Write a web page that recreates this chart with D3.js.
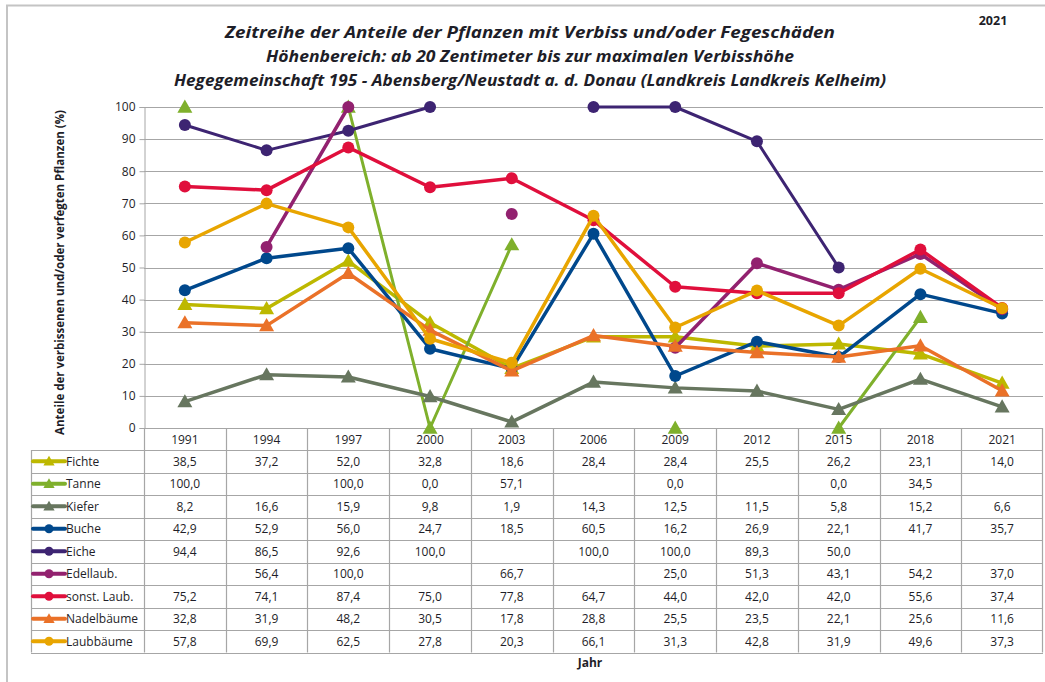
<!DOCTYPE html>
<html>
<head>
<meta charset="utf-8">
<script src="https://cdn.jsdelivr.net/npm/d3@7"></script>
<style>
  body { margin: 0; background: #fff; }
  svg text { font-family: "Open Sans", "Noto Sans", sans-serif; fill: #1e1e28; }
  .title { font-weight: bold; font-style: italic; font-size: 15.5px; }
  .cell { font-size: 12px; text-anchor: middle; }
  .tick text { font-size: 12px; }
</style>
</head>
<body>
<svg id="chart" width="1045" height="682"></svg>
<script>
const years = ["1991", "1994", "1997", "2000", "2003", "2006", "2009", "2012", "2015", "2018", "2021"];
const yTicks = [0, 10, 20, 30, 40, 50, 60, 70, 80, 90, 100];

const fichte = [38.5, 37.2, 52.0, 32.8, 18.6, 28.4, 28.4, 25.5, 26.2, 23.1, 14.0];
const tanne = [100.0, null, 100.0, 0.0, 57.1, null, 0.0, null, 0.0, 34.5, null];
const kiefer = [8.2, 16.6, 15.9, 9.8, 1.9, 14.3, 12.5, 11.5, 5.8, 15.2, 6.6];
const buche = [42.9, 52.9, 56.0, 24.7, 18.5, 60.5, 16.2, 26.9, 22.1, 41.7, 35.7];
const eiche = [94.4, 86.5, 92.6, 100.0, null, 100.0, 100.0, 89.3, 50.0, null, null];
const edellaub = [null, 56.4, 100.0, null, 66.7, null, 25.0, 51.3, 43.1, 54.2, 37.0];
const sonstLaub = [75.2, 74.1, 87.4, 75.0, 77.8, 64.7, 44.0, 42.0, 42.0, 55.6, 37.4];
const nadelbaeume = [32.8, 31.9, 48.2, 30.5, 17.8, 28.8, 25.5, 23.5, 22.1, 25.6, 11.6];
const laubbaeume = [57.8, 69.9, 62.5, 27.8, 20.3, 66.1, 31.3, 42.8, 31.9, 49.6, 37.3];

const series = [
  { name: "Fichte", values: fichte, color: "#bdb800", shape: "tri", width: 3.5 },
  { name: "Tanne", values: tanne, color: "#7fb02c", shape: "tri", width: 3 },
  { name: "Kiefer", values: kiefer, color: "#67765f", shape: "tri", width: 3.5 },
  { name: "Buche", values: buche, color: "#00488c", shape: "circle", width: 3.5 },
  { name: "Eiche", values: eiche, color: "#3d2472", shape: "circle", width: 3 },
  { name: "Edellaub.", values: edellaub, color: "#92216f", shape: "circle", width: 3.5 },
  { name: "sonst. Laub.", values: sonstLaub, color: "#e00f3c", shape: "circle", width: 3.5 },
  { name: "Nadelbäume", values: nadelbaeume, color: "#ea7128", shape: "tri", width: 3.5 },
  { name: "Laubbäume", values: laubbaeume, color: "#e8a500", shape: "circle", width: 3.5 }
];

const svg = d3.select("#chart");
const grid = "#a6a6a6";

// outer frame (only left and top edges are visible)
svg.append("rect").attr("x", 7).attr("y", 5.5).attr("width", 1060).attr("height", 700)
  .attr("fill", "none").attr("stroke", "#c4c4c4").attr("stroke-width", 2);

const plotLeft = 144, plotRight = 1043, plotTop = 107, plotBottom = 428;
const x = d3.scaleBand().domain(years).range([plotLeft, plotRight]);
const y = d3.scaleLinear().domain([0, 100]).range([plotBottom, plotTop]);

// titles
const titles = [
  "Zeitreihe der Anteile der Pflanzen mit Verbiss und/oder Fegeschäden",
  "Höhenbereich: ab 20 Zentimeter bis zur maximalen Verbisshöhe",
  "Hegegemeinschaft 195 - Abensberg/Neustadt a. d. Donau (Landkreis Landkreis Kelheim)"
];
const titleWidths = [610, 528, 712];
titles.forEach((t, i) => {
  svg.append("text").attr("class", "title")
    .attr("x", 530).attr("y", 38 + i * 24)
    .attr("text-anchor", "middle")
    .attr("textLength", titleWidths[i]).attr("lengthAdjust", "spacingAndGlyphs")
    .text(t);
});
svg.append("text").attr("x", 993).attr("y", 25).attr("text-anchor", "middle")
  .style("font-weight", "bold").style("font-size", "12.5px").text("2021");

// horizontal grid
svg.append("g").selectAll("line").data(yTicks.slice(1)).join("line")
  .attr("x1", plotLeft).attr("x2", plotRight)
  .attr("y1", d => Math.round(y(d)) + 0.5).attr("y2", d => Math.round(y(d)) + 0.5)
  .attr("stroke", grid).attr("stroke-width", 1.2);

// y axis
const yAxis = svg.append("g").attr("transform", `translate(${plotLeft + 0.5},0)`)
  .call(d3.axisLeft(y).tickValues(yTicks).tickSize(5).tickPadding(4));
yAxis.selectAll("path, line").attr("stroke", grid);
yAxis.selectAll("text").style("font-size", "12px").attr("fill", "#1e1e28");

svg.append("text")
  .attr("transform", `translate(64,${(plotTop + plotBottom) / 2 + 5}) rotate(-90)`)
  .attr("text-anchor", "middle").style("font-weight", "bold").style("font-size", "11.5px")
  .text("Anteile der verbissenen und/oder verfegten Pflanzen (%)");

// data table
const tableLeft = 31;
const headTop = plotBottom, headBottom = 450;
const rowH = 22.5;
const tableBottom = headBottom + rowH * series.length;

const tbl = svg.append("g").attr("stroke", grid).attr("stroke-width", 1.2);
tbl.append("line").attr("x1", plotLeft).attr("x2", plotRight).attr("y1", plotBottom + 0.5).attr("y2", plotBottom + 0.5);
d3.range(series.length + 1).forEach(i => {
  const yy = Math.round(headBottom + i * rowH) + 0.5;
  tbl.append("line").attr("x1", tableLeft).attr("x2", plotRight).attr("y1", yy).attr("y2", yy);
});
years.forEach(yr => {
  const xx = Math.round(x(yr)) + 0.5;
  tbl.append("line").attr("x1", xx).attr("x2", xx).attr("y1", headTop).attr("y2", tableBottom);
});
tbl.append("line").attr("x1", plotRight - 0.5).attr("x2", plotRight - 0.5).attr("y1", headTop).attr("y2", tableBottom);
tbl.append("line").attr("x1", tableLeft + 0.5).attr("x2", tableLeft + 0.5).attr("y1", headBottom).attr("y2", tableBottom);

// header years
svg.append("g").selectAll("text").data(years).join("text").attr("class", "cell")
  .attr("x", d => x(d) + x.bandwidth() / 2).attr("y", headTop + 16).text(d => d);

const fmt = v => v == null ? "" : v.toFixed(1).replace(".", ",");

function marker(g, shape, color, cx, cy, r) {
  if (shape === "circle") {
    g.append("circle").attr("cx", cx).attr("cy", cy).attr("r", r).attr("fill", color);
  } else {
    const s = r * 1.25;
    g.append("path")
      .attr("d", `M${cx},${cy - s}L${cx + s},${cy + s * 0.75}L${cx - s},${cy + s * 0.75}Z`)
      .attr("fill", color);
  }
}

series.forEach((s, i) => {
  const rowY = headBottom + i * rowH + rowH / 2;
  const g = svg.append("g");
  g.append("line").attr("x1", 33).attr("x2", 65).attr("y1", rowY).attr("y2", rowY)
    .attr("stroke", s.color).attr("stroke-width", 4).attr("stroke-linecap", "round");
  marker(g, s.shape, s.color, 49, rowY, 4.5);
  g.append("text").attr("x", 66).attr("y", rowY + 4.5).style("font-size", "12px").text(s.name);
  g.selectAll("text.cell").data(s.values).join("text").attr("class", "cell")
    .attr("x", (d, j) => x(years[j]) + x.bandwidth() / 2).attr("y", rowY + 4.5)
    .text(d => fmt(d));
});

svg.append("text").attr("x", 590).attr("y", 667).attr("text-anchor", "middle")
  .style("font-weight", "bold").style("font-size", "12px").text("Jahr");

// series lines and markers
const cx = j => x(years[j]) + x.bandwidth() / 2;
const line = d3.line().defined(d => d != null).x((d, j) => cx(j)).y(d => y(d));
series.forEach(s => {
  const g = svg.append("g");
  g.append("path").attr("d", line(s.values)).attr("fill", "none")
    .attr("stroke", s.color).attr("stroke-width", s.width).attr("stroke-linejoin", "round");
  s.values.forEach((v, j) => {
    if (v != null) marker(g, s.shape, s.color, cx(j), y(v), 6);
  });
});
</script>
</body>
</html>
